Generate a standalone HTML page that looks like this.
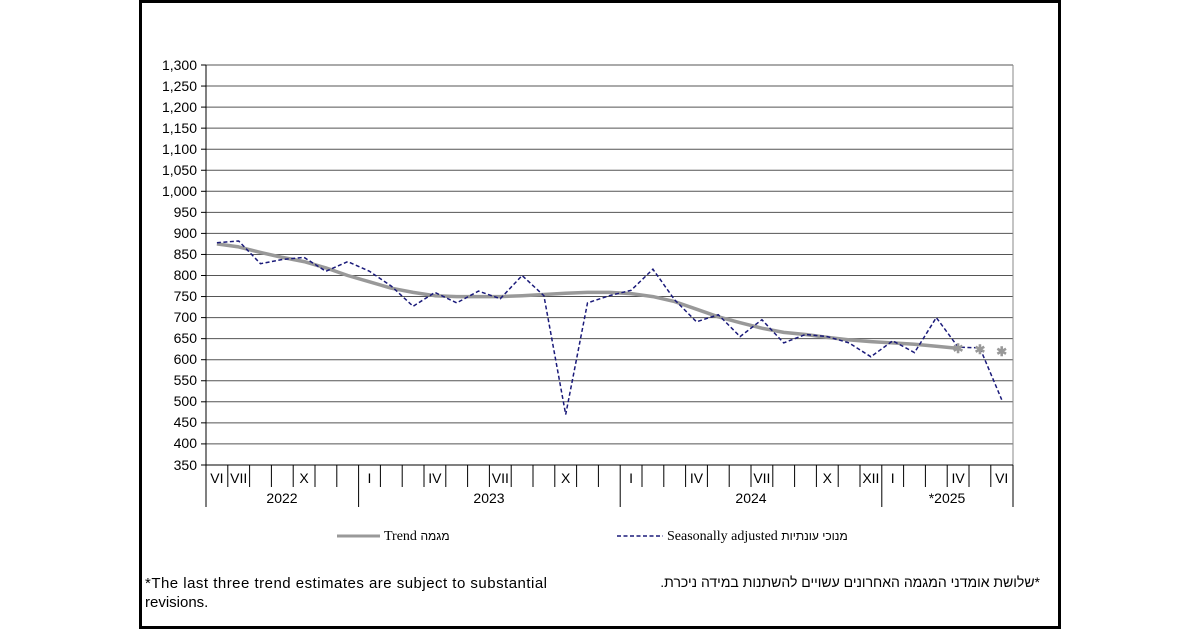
<!DOCTYPE html>
<html><head><meta charset="utf-8"><style>
html,body{margin:0;padding:0;background:#fff;}
svg{display:block;}
#heb{position:absolute;left:560px;width:480px;top:574px;direction:rtl;text-align:right;font-family:"Liberation Sans","DejaVu Sans",sans-serif;font-size:14px;color:#000;white-space:nowrap;}
</style></head><body>
<svg width="1200" height="630" xmlns="http://www.w3.org/2000/svg" font-family="Liberation Sans, Arial, sans-serif">
<rect x="0" y="0" width="1200" height="630" fill="#fff"/>
<rect x="140.5" y="1.5" width="919" height="626" fill="#fff" stroke="#000" stroke-width="3"/>
<g stroke="#555" stroke-width="1">
<line x1="206" y1="65" x2="1013" y2="65"/>
<line x1="206" y1="86.05" x2="1013" y2="86.05"/>
<line x1="206" y1="107.1" x2="1013" y2="107.1"/>
<line x1="206" y1="128.15" x2="1013" y2="128.15"/>
<line x1="206" y1="149.2" x2="1013" y2="149.2"/>
<line x1="206" y1="170.25" x2="1013" y2="170.25"/>
<line x1="206" y1="191.3" x2="1013" y2="191.3"/>
<line x1="206" y1="212.35" x2="1013" y2="212.35"/>
<line x1="206" y1="233.4" x2="1013" y2="233.4"/>
<line x1="206" y1="254.45" x2="1013" y2="254.45"/>
<line x1="206" y1="275.5" x2="1013" y2="275.5"/>
<line x1="206" y1="296.55" x2="1013" y2="296.55"/>
<line x1="206" y1="317.6" x2="1013" y2="317.6"/>
<line x1="206" y1="338.65" x2="1013" y2="338.65"/>
<line x1="206" y1="359.7" x2="1013" y2="359.7"/>
<line x1="206" y1="380.75" x2="1013" y2="380.75"/>
<line x1="206" y1="401.8" x2="1013" y2="401.8"/>
<line x1="206" y1="422.85" x2="1013" y2="422.85"/>
<line x1="206" y1="443.9" x2="1013" y2="443.9"/>
</g>
<line x1="1013" y1="65" x2="1013" y2="465" stroke="#888" stroke-width="1"/>
<g stroke="#000" stroke-width="1">
<line x1="206" y1="65" x2="206" y2="465"/>
<line x1="201" y1="465" x2="1013" y2="465"/>
</g>
<g stroke="#000" stroke-width="1">
<line x1="201" y1="65" x2="206" y2="65"/><line x1="201" y1="86.05" x2="206" y2="86.05"/><line x1="201" y1="107.1" x2="206" y2="107.1"/><line x1="201" y1="128.15" x2="206" y2="128.15"/><line x1="201" y1="149.2" x2="206" y2="149.2"/><line x1="201" y1="170.25" x2="206" y2="170.25"/><line x1="201" y1="191.3" x2="206" y2="191.3"/><line x1="201" y1="212.35" x2="206" y2="212.35"/><line x1="201" y1="233.4" x2="206" y2="233.4"/><line x1="201" y1="254.45" x2="206" y2="254.45"/><line x1="201" y1="275.5" x2="206" y2="275.5"/><line x1="201" y1="296.55" x2="206" y2="296.55"/><line x1="201" y1="317.6" x2="206" y2="317.6"/><line x1="201" y1="338.65" x2="206" y2="338.65"/><line x1="201" y1="359.7" x2="206" y2="359.7"/><line x1="201" y1="380.75" x2="206" y2="380.75"/><line x1="201" y1="401.8" x2="206" y2="401.8"/><line x1="201" y1="422.85" x2="206" y2="422.85"/><line x1="201" y1="443.9" x2="206" y2="443.9"/>
</g>
<g font-size="14" text-anchor="end" fill="#000">
<text x="197" y="70">1,300</text><text x="197" y="91">1,250</text><text x="197" y="112">1,200</text><text x="197" y="133">1,150</text><text x="197" y="154">1,100</text><text x="197" y="175">1,050</text><text x="197" y="196">1,000</text><text x="197" y="217">950</text><text x="197" y="238">900</text><text x="197" y="259">850</text><text x="197" y="280">800</text><text x="197" y="301">750</text><text x="197" y="322">700</text><text x="197" y="343">650</text><text x="197" y="364">600</text><text x="197" y="385">550</text><text x="197" y="406">500</text><text x="197" y="427">450</text><text x="197" y="448">400</text><text x="197" y="470">350</text>
</g>
<g stroke="#000" stroke-width="1">
<line x1="227.8" y1="465" x2="227.8" y2="487"/><line x1="249.6" y1="465" x2="249.6" y2="487"/><line x1="271.4" y1="465" x2="271.4" y2="487"/><line x1="293.2" y1="465" x2="293.2" y2="487"/><line x1="315" y1="465" x2="315" y2="487"/><line x1="336.8" y1="465" x2="336.8" y2="487"/>
<line x1="380.4" y1="465" x2="380.4" y2="487"/><line x1="402.2" y1="465" x2="402.2" y2="487"/><line x1="424" y1="465" x2="424" y2="487"/><line x1="445.8" y1="465" x2="445.8" y2="487"/><line x1="467.6" y1="465" x2="467.6" y2="487"/><line x1="489.4" y1="465" x2="489.4" y2="487"/><line x1="511.2" y1="465" x2="511.2" y2="487"/><line x1="533" y1="465" x2="533" y2="487"/><line x1="554.8" y1="465" x2="554.8" y2="487"/><line x1="576.6" y1="465" x2="576.6" y2="487"/><line x1="598.4" y1="465" x2="598.4" y2="487"/>
<line x1="642" y1="465" x2="642" y2="487"/><line x1="663.8" y1="465" x2="663.8" y2="487"/><line x1="685.6" y1="465" x2="685.6" y2="487"/><line x1="707.4" y1="465" x2="707.4" y2="487"/><line x1="729.2" y1="465" x2="729.2" y2="487"/><line x1="751" y1="465" x2="751" y2="487"/><line x1="772.8" y1="465" x2="772.8" y2="487"/><line x1="794.6" y1="465" x2="794.6" y2="487"/><line x1="816.4" y1="465" x2="816.4" y2="487"/><line x1="838.2" y1="465" x2="838.2" y2="487"/><line x1="860" y1="465" x2="860" y2="487"/>
<line x1="903.6" y1="465" x2="903.6" y2="487"/><line x1="925.4" y1="465" x2="925.4" y2="487"/><line x1="947.2" y1="465" x2="947.2" y2="487"/><line x1="969" y1="465" x2="969" y2="487"/><line x1="990.8" y1="465" x2="990.8" y2="487"/>
<line x1="206" y1="465" x2="206" y2="507"/><line x1="358.6" y1="465" x2="358.6" y2="507"/><line x1="620.2" y1="465" x2="620.2" y2="507"/><line x1="881.8" y1="465" x2="881.8" y2="507"/><line x1="1013" y1="465" x2="1013" y2="507"/>
</g>
<g font-size="14" text-anchor="middle" fill="#000">
<text x="216.9" y="483">VI</text><text x="238.7" y="483">VII</text><text x="304.1" y="483">X</text>
<text x="369.5" y="483">I</text><text x="434.9" y="483">IV</text><text x="500.3" y="483">VII</text><text x="565.7" y="483">X</text>
<text x="631.1" y="483">I</text><text x="696.5" y="483">IV</text><text x="761.9" y="483">VII</text><text x="827.3" y="483">X</text><text x="870.9" y="483">XII</text>
<text x="892.7" y="483">I</text><text x="958.1" y="483">IV</text><text x="1001.7" y="483">VI</text>
<text x="282" y="503">2022</text><text x="489" y="503">2023</text><text x="751" y="503">2024</text><text x="947" y="503">*2025</text>
</g>
<polyline fill="none" stroke="#999" stroke-width="3.5" stroke-linejoin="round" points="216.9,243.9 238.7,246.9 260.5,252.4 282.3,257.4 304.1,261.6 325.9,267.9 347.7,275.5 369.5,281.8 391.3,288.2 413.1,292.4 434.9,295.7 456.7,296.6 478.5,296.6 500.3,296.6 522.1,295.7 543.9,294.5 565.7,293.2 587.5,292.4 609.3,292.4 631.1,293.6 652.9,296.6 674.7,301.6 696.5,309.2 718.3,316.8 740.1,322.7 761.9,328.2 783.7,332.4 805.5,334.5 827.3,337.4 849.1,339.9 870.9,341.6 892.7,342.9 914.5,344.2 936.3,346.3 958.1,348.4"/>
<polyline fill="none" stroke="#1a1a7a" stroke-width="1.5" stroke-dasharray="4,2.5" points="216.9,242.7 238.7,241 260.5,263.7 282.3,259.5 304.1,257.4 325.9,271.3 347.7,261.6 369.5,271.3 391.3,286.1 413.1,306.3 434.9,292.4 456.7,302.9 478.5,291.1 500.3,298.7 522.1,275.5 543.9,295.7 565.7,414.5 587.5,302.9 609.3,295.7 631.1,290.3 652.9,269.2 674.7,299.9 696.5,321.8 718.3,314.7 740.1,336.6 761.9,319.7 783.7,342.9 805.5,334.5 827.3,336.6 849.1,342.9 870.9,356.8 892.7,340.8 914.5,352.6 936.3,317.6 958.1,347.1 979.9,347.9 1001.7,399.7"/>
<g font-size="13" fill="#999" text-anchor="middle" font-weight="bold">
<text x="958.1" y="353">✱</text><text x="979.9" y="354">✱</text><text x="1001.7" y="356">✱</text>
</g>
<line x1="337" y1="536" x2="380" y2="536" stroke="#999" stroke-width="3"/>
<text x="384" y="540" font-family="Liberation Serif, Noto Serif CJK SC, serif" font-size="14" fill="#000">Trend <tspan font-family="Liberation Sans, DejaVu Sans, sans-serif" font-size="12">מגמה</tspan></text>
<line x1="617" y1="536" x2="663" y2="536" stroke="#1a1a7a" stroke-width="1.5" stroke-dasharray="4,2.5"/>
<text x="667" y="540" font-family="Liberation Serif, serif" font-size="14" fill="#000">Seasonally adjusted <tspan font-family="Liberation Sans, DejaVu Sans, sans-serif" font-size="12">מנוכי עונתיות</tspan></text>
<text x="145" y="588" font-size="15" fill="#000" textLength="402" lengthAdjust="spacing">*The last three trend estimates are subject to substantial</text>
<text x="145" y="607" font-size="15" fill="#000">revisions.</text>
</svg>
<div id="heb">*שלושת אומדני המגמה האחרונים עשויים להשתנות במידה ניכרת.</div>
</body></html>
